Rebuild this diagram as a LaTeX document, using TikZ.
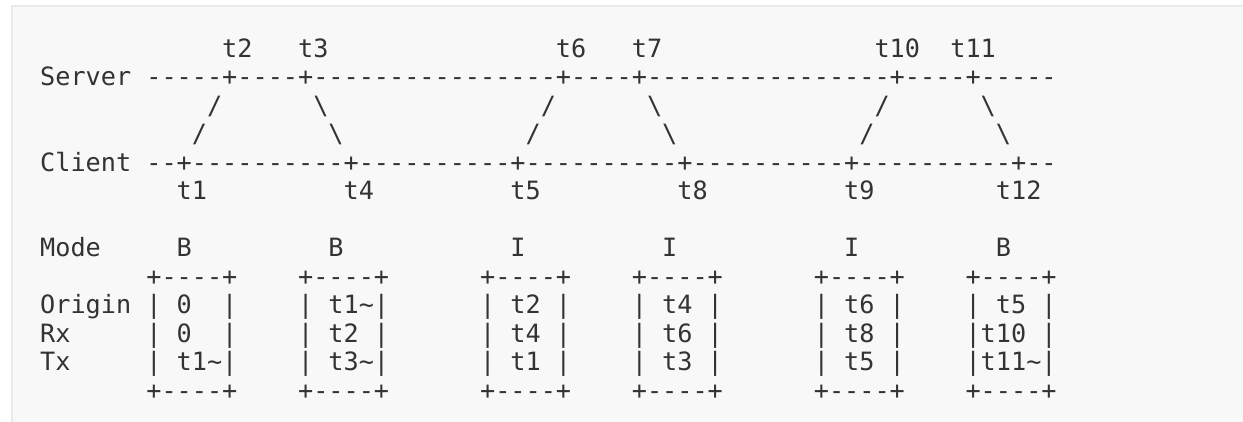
\documentclass[tikz,border=0pt]{standalone}
\usepackage{fontspec}
\setmonofont{DejaVu Sans Mono}

\definecolor{ink}{RGB}{51,51,51}
\definecolor{codebg}{RGB}{248,248,248}
\definecolor{codeedge}{RGB}{234,234,234}

\begin{document}
\begin{tikzpicture}[x=1pt,y=-1pt,
        txt/.style={font=\ttfamily\fontsize{25.2}{28.5}\selectfont,text=ink,inner sep=0pt,anchor=base west},
        frame/.style={txt},
        cell/.style={txt}
      ]

  \useasboundingbox (0,0) rectangle (1243,421);
  \fill[white] (0,0) rectangle (1243,421);
  \filldraw[fill=codebg,draw=codeedge,line width=2pt] (12,6) rectangle (1260,440);

  % one unit = one character cell
  \begin{scope}[shift={(40,57.2)},x=15.17pt,y=-28.5pt]

  % server and client time lines
  \node (t2) [txt] at (12,0) {t2};
  \node (t3) [txt] at (17,0) {t3};
  \node (t6) [txt] at (34,0) {t6};
  \node (t7) [txt] at (39,0) {t7};
  \node (t10) [txt] at (55,0) {t10};
  \node (t11) [txt] at (60,0) {t11};

  \node (server) [txt] at (0,1) {Server};
  \node (serverline) [txt] at (7,1) {-----+----+----------------+----+----------------+----+-----};

  \node (upA1) [txt] at (11,2) {/};
  \node (dnA1) [txt] at (18,2) {\textbackslash};
  \node (upB1) [txt] at (33,2) {/};
  \node (dnB1) [txt] at (40,2) {\textbackslash};
  \node (upC1) [txt] at (55,2) {/};
  \node (dnC1) [txt] at (62,2) {\textbackslash};

  \node (upA2) [txt] at (10,3) {/};
  \node (dnA2) [txt] at (19,3) {\textbackslash};
  \node (upB2) [txt] at (32,3) {/};
  \node (dnB2) [txt] at (41,3) {\textbackslash};
  \node (upC2) [txt] at (54,3) {/};
  \node (dnC2) [txt] at (63,3) {\textbackslash};

  \node (client) [txt] at (0,4) {Client};
  \node (clientline) [txt] at (7,4) {--+----------+----------+----------+----------+----------+--};

  \node (t1) [txt] at (9,5) {t1};
  \node (t4) [txt] at (20,5) {t4};
  \node (t5) [txt] at (31,5) {t5};
  \node (t8) [txt] at (42,5) {t8};
  \node (t9) [txt] at (53,5) {t9};
  \node (t12) [txt] at (63,5) {t12};

  % mode row
  \node (mode) [txt] at (0,7) {Mode};
  \node (modeA) [txt] at (9,7) {B};
  \node (modeB) [txt] at (19,7) {B};
  \node (modeC) [txt] at (31,7) {I};
  \node (modeD) [txt] at (41,7) {I};
  \node (modeE) [txt] at (53,7) {I};
  \node (modeF) [txt] at (63,7) {B};

  % packet boxes
  \node (origin) [txt] at (0,9) {Origin};
  \node (rx) [txt] at (0,10) {Rx};
  \node (tx) [txt] at (0,11) {Tx};

  \foreach \c/\nm in {7/A,17/B,29/C,39/D,51/E,61/F} {
    \node (top\nm) [frame] at (\c,8) {+----+};
    \node (bot\nm) [frame] at (\c,12) {+----+};
    \foreach \r in {9,10,11} {
      \node (l\nm\r) [frame] at (\c,\r) {|};
      \node (r\nm\r) [frame] at (\c+5,\r) {|};
    }
  }

  \node (orgA) [cell] at (9,9) {0};
  \node (rxA) [cell] at (9,10) {0};
  \node (txA) [cell] at (9,11) {t1\textasciitilde};

  \node (orgB) [cell] at (19,9) {t1\textasciitilde};
  \node (rxB) [cell] at (19,10) {t2};
  \node (txB) [cell] at (19,11) {t3\textasciitilde};

  \node (orgC) [cell] at (31,9) {t2};
  \node (rxC) [cell] at (31,10) {t4};
  \node (txC) [cell] at (31,11) {t1};

  \node (orgD) [cell] at (41,9) {t4};
  \node (rxD) [cell] at (41,10) {t6};
  \node (txD) [cell] at (41,11) {t3};

  \node (orgE) [cell] at (53,9) {t6};
  \node (rxE) [cell] at (53,10) {t8};
  \node (txE) [cell] at (53,11) {t5};

  \node (orgF) [cell] at (63,9) {t5};
  \node (rxF) [cell] at (62,10) {t10};
  \node (txF) [cell] at (62,11) {t11\textasciitilde};

  \end{scope}

\end{tikzpicture}
\end{document}
